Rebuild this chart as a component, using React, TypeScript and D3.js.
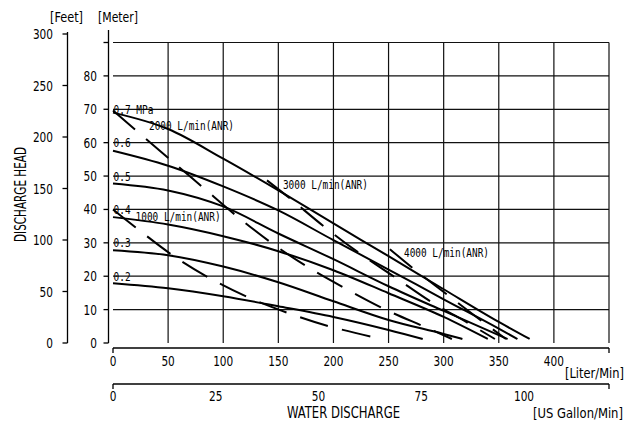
import React from 'react';
import * as d3 from 'd3';

const W = 638;
const H = 422;

// Axis ticks
const LITER_TICKS = [0, 50, 100, 150, 200, 250, 300, 350, 400];
const LITER_MAX = 450;
const GALLON_TICKS = [0, 25, 50, 75, 100];
const METER_TICKS = [0, 10, 20, 30, 40, 50, 60, 70, 80];
const METER_GRID = [10, 20, 30, 40, 50, 60, 70, 80, 90];
const METER_MAX = 90;
const FEET_TICKS = [0, 50, 100, 150, 200, 250, 300];

// Pressure curves: [liter/min, meter]
const P07 = [[0, 69], [50, 64.1], [100, 55.2], [150, 45.7], [200, 35.8], [250, 26], [300, 16.1], [350, 6.3], [378, 1.2]];
const P06 = [[0, 57.6], [50, 53.1], [100, 46.9], [150, 39.7], [200, 30.8], [250, 22], [300, 13.1], [350, 4.3], [367, 1.2]];
const P05 = [[0, 47.8], [50, 45.7], [100, 40.9], [150, 32.8], [200, 25.1], [250, 17], [300, 9.6], [358, 1.2]];
const P04 = [[0, 37.7], [50, 35.5], [100, 32], [150, 27.5], [200, 21.8], [250, 14.9], [300, 7.8], [340, 1.2]];
const P03 = [[0, 27.8], [50, 26.3], [100, 22.9], [150, 18.2], [200, 12.5], [250, 6.9], [300, 2.7], [317, 1.2]];
const P02 = [[0, 17.9], [50, 16.4], [100, 14], [150, 11], [200, 7.8], [250, 3.9], [281, 1.2]];
const PRESSURE_CURVES = [P07, P06, P05, P04, P03, P02];
const PRESSURE_LABELS = ['0.7 MPa', '0.6', '0.5', '0.4', '0.3', '0.2'];
const PRESSURE_LABEL_LEVELS = [70, 60, 50, 40, 30, 20];

// Air consumption lines (dashed): [liter/min, meter]
const A1000 = [[0, 40], [52.6, 26.6], [86.2, 19.7], [122.4, 13.7], [158.7, 9.0], [195, 5.1], [235.8, 1.8]];
const A2000 = [[0, 69.6], [51.7, 55], [81.6, 46.6], [111.6, 38.2], [143.3, 30.1], [176.9, 22.7], [210.4, 16.4], [246.7, 10.1], [283, 4.8], [307.5, 1.2]];
const A3000 = [[139.7, 48.7], [160.5, 43.3], [191.4, 34.9], [222.2, 27.2], [255.8, 19.7], [289.3, 12.2], [322, 6], [346.5, 1.2]];
const A4000 = [[251.2, 28.1], [272.1, 22.4], [303.9, 14.3], [335.6, 6.3], [356.5, 1.2]];
const AIR_LINES = [A1000, A2000, A3000, A4000];
const AIR_LABELS = ['1000  L/min(ANR)', '2000  L/min(ANR)', '3000  L/min(ANR)', '4000  L/min(ANR)'];
const AIR_LABEL_POS = [[20.5, 37.9], [32.7, 65.2], [154.2, 47.5], [264, 27]];

const FONT = "'Liberation Sans Narrow','DejaVu Sans Condensed','DejaVu Sans','Liberation Sans',sans-serif";
const MONO = "'DejaVu Sans Mono','Liberation Mono',monospace";

const digitLen = (v: number) => String(v).length * 6.7;

export default function App() {
  const xL = d3.scaleLinear().domain([0, LITER_MAX]).range([113, 609]);
  const xG = d3.scaleLinear().domain([0, 100]).range([113, 524]);
  const yM = d3.scaleLinear().domain([0, METER_MAX]).range([343, 42.5]);
  const yF = d3.scaleLinear().domain([0, 300]).range([343, 34]);

  const line = d3
    .line<number[]>()
    .x((d) => xL(d[0]))
    .y((d) => yM(d[1]))
    .curve(d3.curveMonotoneX);

  const airLine = d3
    .line<number[]>()
    .x((d) => xL(d[0]))
    .y((d) => yM(d[1]))
    .curve(d3.curveCatmullRom.alpha(0.5));

  const feetX = 67.5;
  const meterX = 108.5;
  const literY = 348;
  const gallonY = 384;

  return (
    <svg
      width={W}
      height={H}
      style={{ position: 'absolute', left: 0, top: 0, background: '#fff' }}
      fontFamily={FONT}
    >
      <rect x={0} y={0} width={W} height={H} fill="#fff" />

      {/* Grid: horizontal */}
      {METER_GRID.map((m) => (
        <line key={'h' + m} x1={xL(0)} x2={xL(LITER_MAX)} y1={yM(m)} y2={yM(m)} stroke="#111" strokeWidth={1.2} />
      ))}
      {/* Grid: vertical */}
      {LITER_TICKS.filter((v) => v > 0).concat([LITER_MAX]).map((v) => (
        <line key={'v' + v} x1={xL(v)} x2={xL(v)} y1={yM(METER_MAX)} y2={yM(0)} stroke="#111" strokeWidth={1.2} />
      ))}

      {/* Feet axis */}
      <line x1={feetX} x2={feetX} y1={yF(300) - 2} y2={yF(0)} stroke="#000" strokeWidth={1.3} />
      {FEET_TICKS.map((v) => (
        <g key={'f' + v}>
          <line x1={feetX - 5} x2={feetX} y1={yF(v)} y2={yF(v)} stroke="#000" strokeWidth={1.3} />
          <text x={53} y={yF(v)} dy="0.36em" textAnchor="end" fontSize={14} textLength={digitLen(v)} lengthAdjust="spacingAndGlyphs">
            {v}
          </text>
        </g>
      ))}

      {/* Meter axis */}
      <line x1={meterX} x2={meterX} y1={30} y2={yM(0)} stroke="#000" strokeWidth={1.3} />
      {METER_GRID.concat([0]).map((v) => (
        <line key={'mt' + v} x1={meterX - 5} x2={meterX} y1={yM(v)} y2={yM(v)} stroke="#000" strokeWidth={1.3} />
      ))}
      {METER_TICKS.map((v) => (
        <text key={'ml' + v} x={97} y={yM(v)} dy="0.36em" textAnchor="end" fontSize={14} textLength={digitLen(v)} lengthAdjust="spacingAndGlyphs">
          {v}
        </text>
      ))}

      <text x={50} y={22} fontSize={14} textLength={33} lengthAdjust="spacingAndGlyphs">[Feet]</text>
      <text x={98} y={22} fontSize={14} textLength={40} lengthAdjust="spacingAndGlyphs">[Meter]</text>
      <text
        transform={`translate(25.5,${(147 + 242) / 2}) rotate(-90)`}
        textAnchor="middle"
        fontSize={15}
        textLength={95}
        lengthAdjust="spacingAndGlyphs"
      >
        DISCHARGE HEAD
      </text>

      {/* Liter axis */}
      <line x1={xL(0)} x2={xL(LITER_MAX)} y1={literY} y2={literY} stroke="#000" strokeWidth={1.3} />
      {[0, LITER_MAX].map((v) => (
        <line key={'lt' + v} x1={xL(v)} x2={xL(v)} y1={literY} y2={literY + 5} stroke="#000" strokeWidth={1.3} />
      ))}
      {LITER_TICKS.map((v) => (
        <text key={'ll' + v} x={xL(v)} y={366} textAnchor="middle" fontSize={14} textLength={digitLen(v)} lengthAdjust="spacingAndGlyphs">
          {v}
        </text>
      ))}
      <text x={565} y={378} fontSize={14} textLength={59} lengthAdjust="spacingAndGlyphs">[Liter/Min]</text>

      {/* Gallon axis */}
      <line x1={xG(0)} x2={xL(LITER_MAX)} y1={gallonY} y2={gallonY} stroke="#000" strokeWidth={1.3} />
      {[xG(0), xL(LITER_MAX)].map((px, i) => (
        <line key={'gt' + i} x1={px} x2={px} y1={gallonY} y2={gallonY + 5} stroke="#000" strokeWidth={1.3} />
      ))}
      {GALLON_TICKS.map((v) => (
        <text key={'gl' + v} x={xG(v)} y={401} textAnchor="middle" fontSize={14} textLength={digitLen(v)} lengthAdjust="spacingAndGlyphs">
          {v}
        </text>
      ))}
      <text x={287} y={418} fontSize={15} textLength={113} lengthAdjust="spacingAndGlyphs">WATER DISCHARGE</text>
      <text x={533} y={418} fontSize={14} textLength={90} lengthAdjust="spacingAndGlyphs">[US Gallon/Min]</text>

      {/* Pressure curves */}
      {PRESSURE_CURVES.map((c, i) => (
        <path key={'p' + i} d={line(c as any) || ''} fill="none" stroke="#000" strokeWidth={2} />
      ))}

      {/* Air consumption lines */}
      {AIR_LINES.map((c, i) => (
        <path
          key={'a' + i}
          d={airLine(c as any) || ''}
          fill="none"
          stroke="#000"
          strokeWidth={2}
          strokeDasharray="29 14.5"
        />
      ))}

      {/* Pressure labels */}
      {PRESSURE_LABELS.map((t, i) => (
        <text
          key={'pl' + i}
          x={xL(0) + 0.5}
          y={yM(PRESSURE_LABEL_LEVELS[i]) + 4.5}
          fontFamily={MONO}
          fontSize={12}
          textLength={t.length * 5.7}
          lengthAdjust="spacingAndGlyphs"
        >
          {t}
        </text>
      ))}

      {/* Air labels */}
      {AIR_LABELS.map((t, i) => (
        <text
          key={'al' + i}
          x={xL(AIR_LABEL_POS[i][0])}
          y={yM(AIR_LABEL_POS[i][1]) + 4.5}
          fontFamily={MONO}
          fontSize={12}
          textLength={85}
          lengthAdjust="spacingAndGlyphs"
        >
          {t}
        </text>
      ))}
    </svg>
  );
}
